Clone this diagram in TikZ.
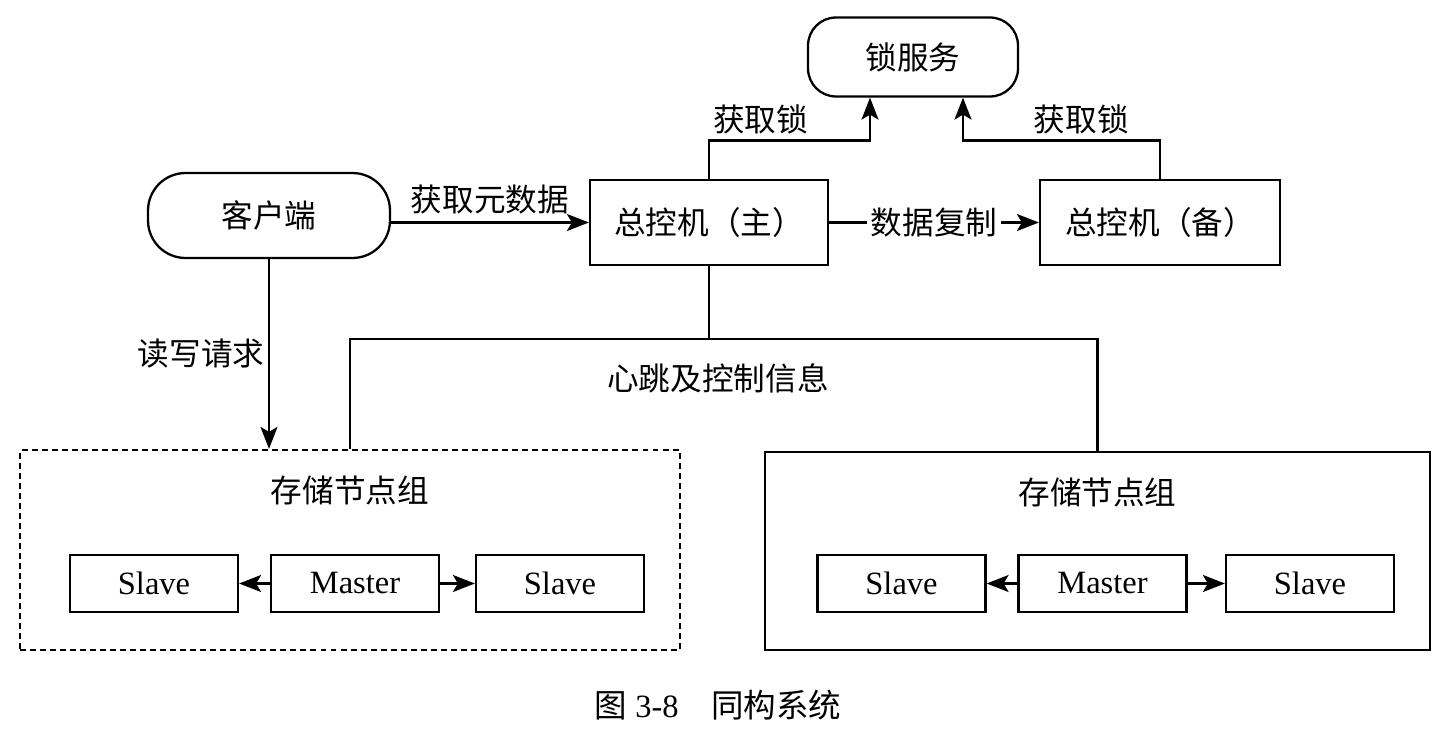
\documentclass[tikz,border=0pt]{standalone}
\usepackage{fontspec}
\setmainfont{Liberation Serif}
\newfontfamily\cjk{Noto Sans CJK SC}
\usepackage{tikz}
\usetikzlibrary{arrows.meta}

\newcommand\zhfont{\fontsize{18}{22}\selectfont\cjk}

\tikzset{
	box/.style={draw, line width=1.3pt, minimum height=1.7cm, font=\zhfont},
	pill/.style={box, rounded corners=0.75cm, minimum width=4.84cm},
	grp/.style={draw, line width=1.3pt, minimum width=13.2cm, minimum height=4cm},
	unit/.style={draw, line width=1.3pt, minimum width=3.36cm, minimum height=1.14cm},
	arr/.style={line width=1.3pt, -{Stealth[length=0.44cm,width=0.34cm,inset=0.1cm]}},
	lbl/.style={font=\zhfont, inner sep=2pt}
}

\begin{document}
\begin{tikzpicture}[x=0.02cm, y=-0.02cm, font=\fontsize{18.5}{22}\selectfont]
	\useasboundingbox (0,0) rectangle (1453,740);

	% top row
	\node[pill, rounded corners=0.56cm, minimum width=4.2cm, minimum height=1.58cm] (lock) at (913,57) {锁服务};
	\node[pill] (client) at (269,215.5) {客户端};
	\node[box, minimum width=4.76cm] (main) at (709,222.5) {总控机（主）};
	\node[box, minimum width=4.8cm] (backup) at (1160,222.5) {总控机（备）};

	% storage groups
	\node[grp, dashed, dash pattern=on 3.4pt off 2.3pt] (grpL) at (350,550) {};
	\node[grp, minimum width=13.3cm, minimum height=3.96cm] (grpR) at (1097.5,551) {};
	\node[lbl] (titleL) at ([yshift=-0.84cm]grpL.north) {存储节点组};
	\node[lbl] (titleR) at ([yshift=-0.84cm]grpR.north) {存储节点组};

	\node[unit] (slaveLa) at (154,583.5) {Slave};
	\node[unit] (masterL) at (355,583.5) {Master};
	\node[unit] (slaveLb) at (560,583.5) {Slave};
	\node[unit] (slaveRa) at (901.5,583.5) {Slave};
	\node[unit] (masterR) at (1102.5,583.5) {Master};
	\node[unit] (slaveRb) at (1310,583.5) {Slave};

	\draw[arr] (masterL) -- (slaveLa);
	\draw[arr] (masterL) -- (slaveLb);
	\draw[arr] (masterR) -- (slaveRa);
	\draw[arr] (masterR) -- (slaveRb);

	% client and masters
	\draw[arr] (client.east |- main) -- node[lbl, above=2pt] (meta) {获取元数据} (main.west);
	\draw[arr] (main) -- node[lbl, fill=white] (copy) {数据复制} (backup);
	\draw[arr] (client.south) -- node[lbl, left] (rw) {读写请求} (client.south |- grpL.north);

	\coordinate (lockL) at ([xshift=-0.86cm]lock.south);
	\coordinate (lockR) at ([xshift=1.0cm]lock.south);
	\draw[arr] (main.north) |- node[lbl, above=1pt, pos=0.66] (getL) {获取锁} ([yshift=-0.86cm]lockL) -- (lockL);
	\draw[arr] (backup.north) |- node[lbl, above=1pt, pos=0.70] (getR) {获取锁} ([yshift=-0.86cm]lockR) -- (lockR);

	% heartbeat
	\draw[line width=1.3pt] (main.south) -- ++(0,73) coordinate (hub);
	\draw[line width=1.3pt] (grpL.north) |- (hub) -| (grpR.north);
	\node[lbl] (beat) at (718,378) {心跳及控制信息};

	\node (caption) at (718,705) {{\cjk 图}~3-8\quad{\cjk 同构系统}};
\end{tikzpicture}
\end{document}
